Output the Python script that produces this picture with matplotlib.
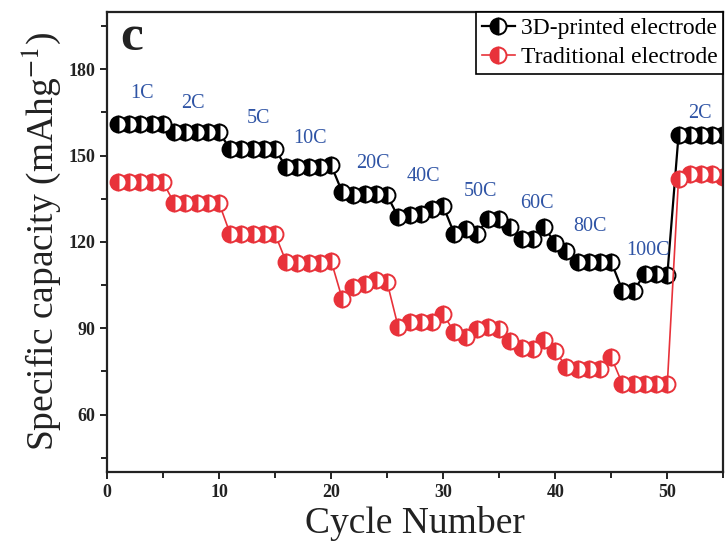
import matplotlib
matplotlib.use("Agg")
import matplotlib.pyplot as plt
from matplotlib.ticker import MultipleLocator

cycles = list(range(1, 56))

printed = [161, 161, 161, 161, 161,
           158.3, 158.3, 158.3, 158.3, 158.3,
           152.2, 152.2, 152.2, 152.2, 152.2,
           146, 146, 146, 146, 146.7,
           137.3, 136.2, 136.7, 136.7, 136.2,
           128.6, 129.2, 129.8, 131.5, 132.5,
           122.8, 124.6, 122.8, 128, 128,
           125.2, 121, 121.1, 125.2, 119.6,
           117, 113, 113, 113, 113,
           103.1, 103.1, 108.9, 108.9, 108.5,
           157.1, 157.1, 157.1, 157.1, 157.1]

traditional = [140.8, 140.8, 140.8, 140.8, 140.8,
               133.6, 133.6, 133.6, 133.6, 133.6,
               122.8, 122.8, 122.8, 122.8, 122.8,
               113, 112.6, 112.6, 112.8, 113.5,
               100.2, 104.3, 105.4, 106.6, 106,
               90.3, 92.1, 92.1, 92.3, 94.9,
               88.6, 86.8, 89.7, 90.3, 89.7,
               85.6, 83, 82.8, 86, 82.2,
               76.4, 76, 76, 76, 79.9,
               70.6, 70.6, 70.6, 70.6, 70.6,
               142, 143.5, 143.5, 143.5, 142.5]

rate_labels = ["1C", "2C", "5C", "10C", "20C", "40C", "50C", "60C", "80C", "100C", "2C"]
rate_x = [3.1, 7.7, 13.5, 18.1, 23.7, 28.2, 33.3, 38.4, 43.1, 48.3, 52.9]
rate_y = [171.6, 168.1, 162.9, 155.9, 147.2, 142.7, 137.5, 133.3, 125.3, 116.9, 164.6]

plt.rcParams["font.family"] = ["Liberation Serif", "DejaVu Serif"]
plt.rcParams["mathtext.fontset"] = "stix"

fig = plt.figure(figsize=(7.27, 5.60), dpi=100)
ax = fig.add_axes([0.147, 0.157, 0.848, 0.822])

ax.plot(cycles, printed, color="black", linewidth=1.6, marker="o",
        markersize=11.5, fillstyle="left", markerfacecolor="black",
        markerfacecoloralt="white", markeredgecolor="black",
        markeredgewidth=1.4, label="3D-printed electrode")
ax.plot(cycles, traditional, color="#e8323a", linewidth=1.2, marker="o",
        markersize=11.5, fillstyle="left", markerfacecolor="#e8323a",
        markerfacecoloralt="white", markeredgecolor="#e8323a",
        markeredgewidth=1.4, label="Traditional electrode")

for lab, x, y in zip(rate_labels, rate_x, rate_y):
    ax.text(x, y, lab, color="#2f54a5", fontsize=14.5, ha="center", va="center")

ax.text(0.022, 0.917, "c", transform=ax.transAxes, fontsize=37,
        fontweight="bold", color="#222222", ha="left", va="baseline")

ax.set_xlim(0, 55)
ax.set_ylim(40, 200)
ax.xaxis.set_major_locator(MultipleLocator(10))
ax.xaxis.set_minor_locator(MultipleLocator(5))
ax.set_yticks([60, 90, 120, 150, 180])
ax.yaxis.set_minor_locator(MultipleLocator(15))
ax.tick_params(which="both", direction="out", top=False, right=False,
               width=1.4, labelsize=13, colors="#222222")
ax.tick_params(which="major", length=5)
ax.tick_params(which="minor", length=4)
for lbl in ax.get_xticklabels() + ax.get_yticklabels():
    lbl.set_fontweight("bold")
for s in ax.spines.values():
    s.set_linewidth(1.6)
    s.set_color("#222222")

ax.set_xlabel("Cycle Number", fontsize=27, color="#222222", labelpad=4)
ax.set_ylabel("Specific capacity (mAhg$^{-1}$)", fontsize=27,
              color="#222222", labelpad=4)

leg = ax.legend(loc="upper right", bbox_to_anchor=(1.0, 1.0),
                borderaxespad=0, fancybox=False, edgecolor="black",
                fontsize=17, handlelength=1.4, handletextpad=0.25,
                borderpad=0.25, labelspacing=0.3, framealpha=1)
leg.get_frame().set_linewidth(1.2)

fig.savefig("out.png", dpi=100)
